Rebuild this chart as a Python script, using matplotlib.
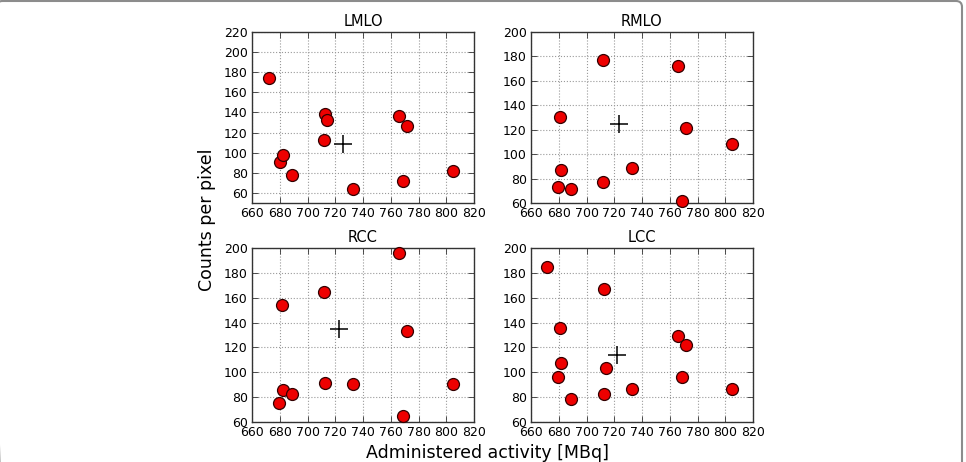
import numpy as np
import matplotlib
matplotlib.use("Agg")
import matplotlib.pyplot as plt
from matplotlib.patches import FancyBboxPatch

# administered activity [MBq] and counts per pixel, one list pair per view
lmlo_x = [672, 680, 682, 689, 712.5, 714, 712, 733, 765.6, 771.7, 769, 805]
lmlo_y = [174, 90.5, 97.5, 78, 138, 132.3, 112.7, 63.7, 136.2, 126.6, 72.3, 82.3]
lmlo_mean = (725.5, 108.5)

rmlo_x = [712.2, 765.9, 680.7, 771.7, 804.9, 681.9, 732.7, 679.7, 688.9, 712.2, 768.8]
rmlo_y = [176.7, 172.4, 130.5, 121.5, 108.1, 87, 88.9, 72.8, 71.1, 77.2, 61.3]
rmlo_mean = (723.3, 124.5)

rcc_x = [765.6, 712.2, 681.4, 771.7, 712.5, 732.7, 804.9, 682.1, 689.1, 679.7, 769]
rcc_y = [195.7, 164.5, 154, 133.2, 91.5, 90.8, 90.8, 85.4, 82.5, 74.9, 64.6]
rcc_mean = (722.8, 134.9)

lcc_x = [671.8, 712.5, 680.7, 765.9, 771.7, 681.7, 713.7, 679.7, 768.8, 732.7, 804.9, 689.1, 712.5]
lcc_y = [184.7, 166.9, 135.9, 129.5, 121.7, 107.1, 103.1, 96.6, 96.1, 86.7, 86.7, 78.3, 82.9]
lcc_mean = (722.1, 113.6)

titles = ["LMLO", "RMLO", "RCC", "LCC"]
ylims = [(50, 220), (60, 200), (60, 200), (60, 200)]

W, H = 966, 462
fig = plt.figure(figsize=(W / 100, H / 100), dpi=100, facecolor="white")

# axes boxes in pixels: left, top, right, bottom
boxes = [(252, 32, 474, 203), (531, 32, 753, 203),
         (252, 248, 474, 422), (531, 248, 753, 422)]

data = [(lmlo_x, lmlo_y, lmlo_mean), (rmlo_x, rmlo_y, rmlo_mean),
        (rcc_x, rcc_y, rcc_mean), (lcc_x, lcc_y, lcc_mean)]

for (l, t, r, b), (xs, ys, mean), title, ylim in zip(boxes, data, titles, ylims):
    ax = fig.add_axes([l / W, 1 - b / H, (r - l) / W, (b - t) / H])
    ax.plot(xs, ys, "o", color="#ee0000", markeredgecolor="#330000",
            markeredgewidth=0.9, markersize=8.6, clip_on=False, zorder=3)
    ax.plot(mean[0], mean[1], "+", color="black", markersize=13,
            markeredgewidth=1.1, zorder=4)
    ax.set_xlim(660, 820)
    ax.set_ylim(*ylim)
    ax.set_xticks(np.arange(660, 821, 20))
    ax.set_yticks(np.arange(60, ylim[1] + 1, 20))
    ax.grid(True, linestyle=":", color="0.6", linewidth=0.8)
    ax.set_axisbelow(True)
    ax.tick_params(direction="in", top=True, right=True, labelsize=9,
                   length=4, width=0.6, pad=3, colors="#333333",
                   labelcolor="black")
    for sp in ax.spines.values():
        sp.set_color("#333333")
        sp.set_linewidth(1.0)
    ax.set_title(title, fontsize=10.5, pad=4)

fig.text(207 / W, 1 - 220 / H, "Counts per pixel", rotation=90,
         ha="center", va="center", fontsize=12.5)
fig.text(488 / W, 1 - 453 / H, "Administered activity [MBq]",
         ha="center", va="center", fontsize=12.5)

# rounded grey frame, only top and right edges fall inside the picture
frame = FancyBboxPatch((-0.035, -0.5), 9.62 + 0.035, 4.61 + 0.5,
                       boxstyle="round,pad=0,rounding_size=0.06",
                       transform=fig.dpi_scale_trans, fill=False,
                       edgecolor="0.55", linewidth=1.5)
fig.patches.append(frame)

fig.savefig("out.png", dpi=100, facecolor="white")
